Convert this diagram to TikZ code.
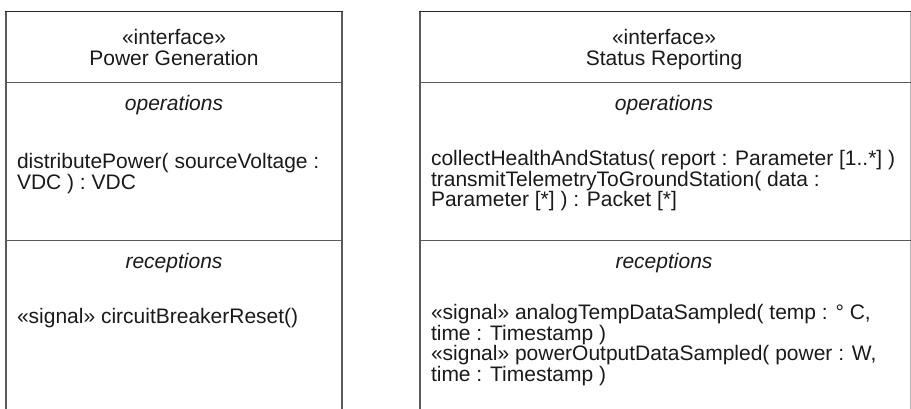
\documentclass[tikz,border=0pt]{standalone}
\usepackage{fontspec}
\setmainfont{Liberation Sans}
\definecolor{txt}{HTML}{1A1A1A}
\definecolor{edge}{HTML}{5A5A5A}
\begin{document}
\begin{tikzpicture}[x=1pt,y=-1pt,
  lbl/.style={inner sep=0pt,outer sep=0pt,text=txt,font=\fontsize{21}{21}\selectfont},
  cl/.style={lbl,anchor=base},
  ll/.style={lbl,anchor=base west},
  it/.style={lbl,anchor=base,font=\fontsize{21}{21}\selectfont\itshape},
  frame/.style={draw=edge,line width=1.8pt},
  topline/.style={draw=black!85,line width=1.8pt}]
\useasboundingbox (0,0) rectangle (911,409);
% left box
\draw[frame] (6,409) -- (6,11.5);
\draw[frame] (342,409) -- (342,11.5);
\draw[topline] (5.1,11.5) -- (342.9,11.5);
\draw[frame] (6,82.5) -- (342,82.5);
\draw[frame] (6,240.5) -- (342,240.5);
% right box
\draw[frame] (420,409) -- (420,11.5);
\draw[draw=black!30,line width=1pt] (910,409) -- (910,11.5);
\draw[topline] (419.1,11.5) -- (911,11.5);
\draw[frame] (420,82.5) -- (911,82.5);
\draw[frame] (420,240.5) -- (911,240.5);
% left texts
\node[cl] (lst) at (174,45) {«interface»};
\node[cl] (lname) at (174,65.5) {Power Generation};
\node[it] (lops) at (174,111) {operations};
\node[ll] (lop1) at (17,169) {distributePower( sourceVoltage :};
\node[ll] (lop2) at (17,189.5) {VDC ) : VDC};
\node[it] (lrec) at (174,269) {receptions};
\node[ll] (lrc1) at (17,323) {«signal» circuitBreakerReset()};
% right texts
\node[cl] (rst) at (664,45) {«interface»};
\node[cl] (rname) at (664,65.5) {Status Reporting};
\node[it] (rops) at (664,111) {operations};
\node[ll] (rop1) at (431,166) {collectHealthAndStatus( report : Parameter [1..*] )};
\node[ll] (rop2) at (431,186.5) {transmitTelemetryToGroundStation( data :};
\node[ll] (rop3) at (431,207) {Parameter [*] ) : Packet [*]};
\node[it] (rrec) at (664,269) {receptions};
\node[ll] (rrc1) at (431,319.5) {«signal» analogTempDataSampled( temp : ° C,};
\node[ll] (rrc2) at (431,340) {time : Timestamp )};
\node[ll] (rrc3) at (431,360.5) {«signal» powerOutputDataSampled( power : W,};
\node[ll] (rrc4) at (431,381) {time : Timestamp )};
\end{tikzpicture}
\end{document}
